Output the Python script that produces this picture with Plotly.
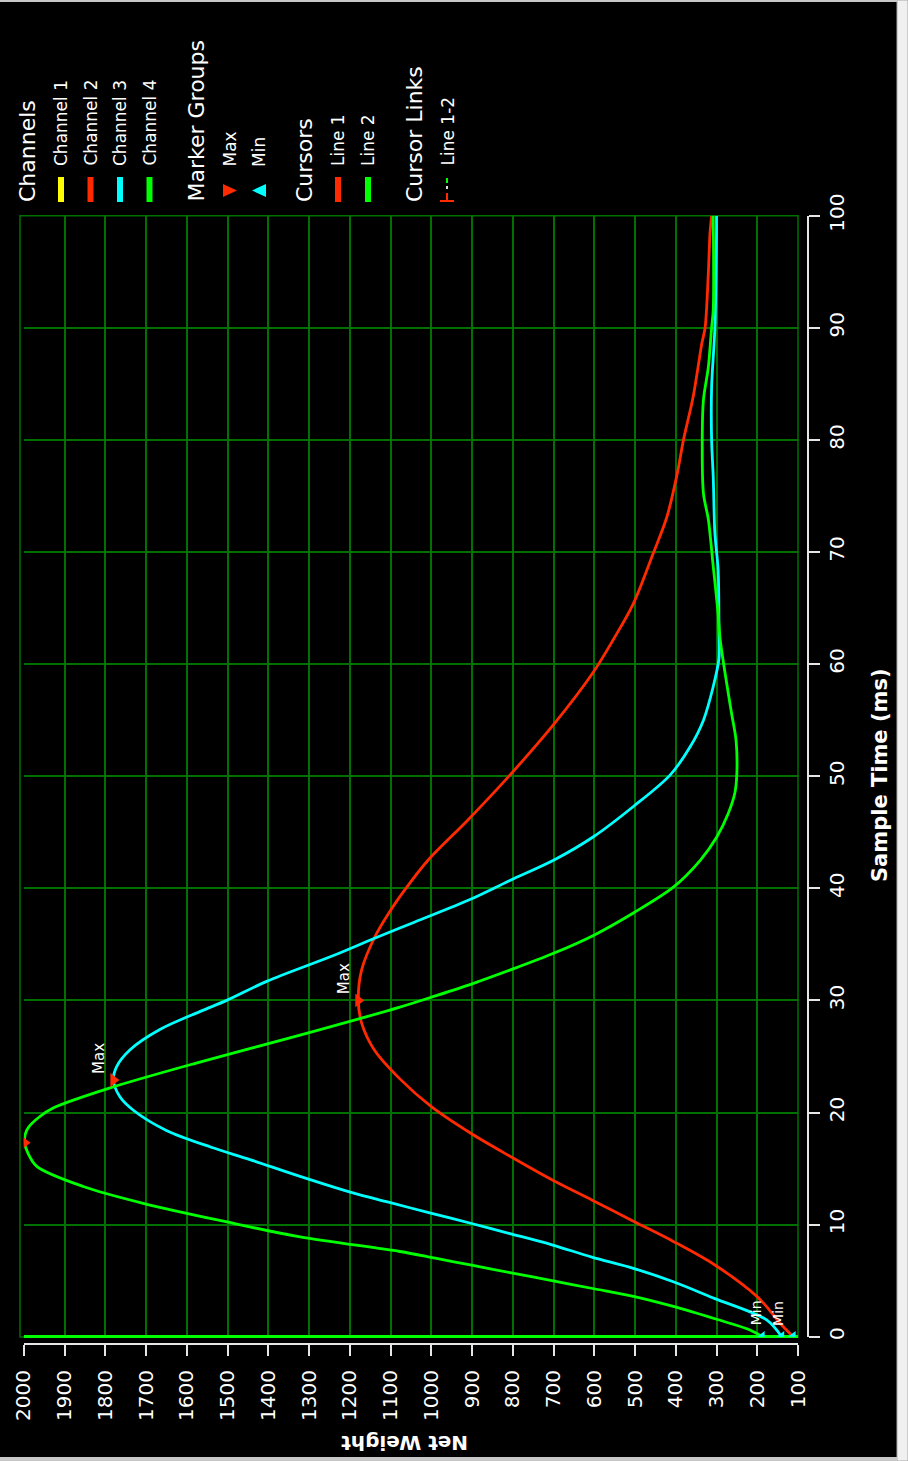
import plotly.graph_objects as go

# ---------------- data ----------------
ch2_time = [0.0, 1.2, 2.5, 3.6, 6.4, 8.5, 10.3, 12.2, 14.0, 16.1, 18.1, 20.5, 23.0, 25.6, 28.0, 30.0,
            32.7, 35.7, 37.8, 40.1, 42.5, 46.1, 50.1, 54.6, 59.3, 62.2, 65.4, 69.9, 73.1,
            76.7, 80.0, 83.9, 88.6, 90.0, 94.9, 98.4, 100.0]
ch2_weight = [112, 144, 173, 201, 304, 406, 504, 606, 704, 807, 901, 999, 1077, 1140, 1171, 1179,
              1171, 1138, 1104, 1060, 1008, 910, 807, 700, 602, 553, 504, 455, 422,
              398, 381, 357, 336, 328, 320, 316, 312]

ch3_time = [0.0, 1.5, 3.4, 4.9, 6.1, 7.1, 8.2, 9.2, 10.1, 11.0, 12.0, 12.8, 14.3, 15.8, 16.9, 18.4,
            20.2, 21.4, 22.9, 24.1, 25.6, 27.4, 29.0, 30.0, 31.7, 34.0, 35.5, 37.0, 39.0,
            40.7, 42.5, 44.6, 47.3, 50.1, 52.6, 55.0, 58.0, 60.5, 63.0, 68.4, 71.7, 76.7, 80.0,
            84.7, 90.0, 98.4, 100.0]
ch3_weight = [140, 177, 304, 406, 504, 606, 704, 807, 901, 999, 1105, 1190, 1322, 1445, 1540, 1650,
              1731, 1764, 1780, 1772, 1739, 1666, 1568, 1502, 1404, 1240, 1142, 1040, 905,
              807, 700, 602, 504, 414, 365, 332, 308, 294, 294, 296, 304, 308, 312,
              312, 304, 300, 300]

ch4_time = [0.0, 0.6, 1.6, 2.7, 3.6, 4.3, 5.0, 5.7, 6.4, 7.0, 7.6, 8.9, 10.3, 11.9, 13.4, 15.2,
            16.4, 17.3, 18.1, 18.7, 19.6, 20.4, 22.2, 24.5, 26.9, 29.4, 30.4, 31.5, 32.7, 34.2,
            35.8, 37.8, 40.1, 42.5, 44.6, 46.7, 48.5, 50.3, 53.2, 55.6, 59.2, 62.2, 64.5, 68.7,
            72.9, 75.2, 80.0, 83.6, 86.5, 90.0, 91.6, 100.0]
ch4_weight = [188, 218, 304, 406, 504, 604, 704, 804, 904, 990, 1077, 1322, 1510, 1707, 1854, 1968,
              1990, 1998, 1996, 1988, 1962, 1928, 1788, 1568, 1322, 1077, 990, 898, 807, 700,
              602, 504, 406, 340, 299, 271, 255, 250, 252, 263, 279, 291, 296, 308,
              320, 332, 335, 332, 320, 312, 308, 308]

channel_names = ["Channel 1", "Channel 2", "Channel 3", "Channel 4"]
channel_colors = ["#ffff00", "#ff2a00", "#00ffff", "#00ff00"]
cursor_names = ["Line 1", "Line 2"]
cursor_colors = ["#ff2a00", "#00ff00"]

weight_ticks = list(range(100, 2001, 100))
time_ticks = list(range(0, 101, 10))

# ---------------- layout helpers ----------------
W, H = 908, 1461
def fx(x):
    return x / W
def fy(y):
    return 1 - y / H

FONT = "DejaVu Sans"
GRID = "rgb(0,112,0)"
AXIS = "#e6e6e6"

fig = go.Figure()

series = [(ch2_time, ch2_weight, channel_colors[1], channel_names[1]),
          (ch3_time, ch3_weight, channel_colors[2], channel_names[2]),
          (ch4_time, ch4_weight, channel_colors[3], channel_names[3])]

for t, w, c, n in series:
    fig.add_trace(go.Scatter(x=w, y=t, mode="lines", name=n,
                             line=dict(color=c, width=2.8, shape="spline", smoothing=0.9),
                             showlegend=False, cliponaxis=True, hoverinfo="skip"))

max_x, max_y = [], []
min_x, min_y = [], []
for t, w, c, n in series:
    i = max(range(len(w)), key=lambda k: w[k])
    max_x.append(w[i]); max_y.append(t[i])
    j = min(range(len(w)), key=lambda k: w[k] if t[k] < 5 else 1e9)
    min_x.append(w[j]); min_y.append(t[j])

fig.add_trace(go.Scatter(x=max_x, y=max_y, mode="markers", cliponaxis=True, showlegend=False,
                         marker=dict(symbol="triangle-right", size=12, color="#ff2a00"),
                         hoverinfo="skip"))
fig.add_trace(go.Scatter(x=min_x, y=min_y, mode="markers", cliponaxis=True, showlegend=False,
                         marker=dict(symbol="triangle-left", size=10, color="#00ffff"),
                         hoverinfo="skip"))

annotations = []
for xv, yv in zip(max_x[:2], max_y[:2]):
    annotations.append(dict(x=xv, y=yv, xref="x", yref="y", text="Max", showarrow=False,
                            textangle=-90, xanchor="center", yanchor="bottom",
                            xshift=-14, yshift=4,
                            font=dict(family=FONT, size=15, color="white")))
for xv, yv, xs in zip(min_x[1:], min_y[1:], [-4, -6]):
    annotations.append(dict(x=xv, y=yv, xref="x", yref="y", text="Min", showarrow=False,
                            textangle=-90, xanchor="center", yanchor="bottom",
                            xshift=xs, yshift=9,
                            font=dict(family=FONT, size=14, color="white")))

annotations.append(dict(x=fx(880), y=fy(775), xref="paper", yref="paper", text="<b>Sample Time (ms)</b>",
                        showarrow=False, textangle=-90, xanchor="center", yanchor="middle",
                        font=dict(family=FONT, size=21, color="white")))
annotations.append(dict(x=fx(405), y=fy(1443), xref="paper", yref="paper", text="<b>Net Weight</b>",
                        showarrow=False, textangle=180, xanchor="center", yanchor="middle",
                        font=dict(family=FONT, size=20, color="white")))

def vtext(txt, x, ybottom, size):
    annotations.append(dict(x=fx(x), y=fy(ybottom), xref="paper", yref="paper", text=txt,
                            showarrow=False, textangle=-90, xanchor="center", yanchor="bottom",
                            font=dict(family=FONT, size=size, color="white")))

shapes = []
shapes.append(dict(type="rect", xref="paper", yref="paper", x0=fx(897), x1=1, y0=0, y1=1,
                   fillcolor="#f0f0f0", line=dict(color="#a8a8a8", width=1), layer="below"))
shapes.append(dict(type="rect", xref="paper", yref="paper", x0=0, x1=fx(897), y0=fy(2), y1=1,
                   fillcolor="#c8c8c8", line=dict(width=0), layer="below"))
shapes.append(dict(type="rect", xref="paper", yref="paper", x0=0, x1=fx(897), y0=0, y1=fy(1457),
                   fillcolor="#c8c8c8", line=dict(width=0), layer="below"))
shapes.append(dict(type="rect", xref="paper", yref="paper", x0=fx(20), x1=fx(798),
                   y0=fy(1337), y1=fy(215.7), line=dict(color=GRID, width=1.5), layer="below"))

def bar(x, color):
    shapes.append(dict(type="rect", xref="paper", yref="paper", x0=fx(x - 3), x1=fx(x + 3),
                       y0=fy(202), y1=fy(177), fillcolor=color, line=dict(width=0), layer="above"))

vtext("Channels", 28, 204, 22)
for i, (nm, col) in enumerate(zip(channel_names, channel_colors)):
    xc = 61 + i * 29.5
    bar(xc, col)
    vtext(nm, xc, 168, 17)

vtext("Marker Groups", 196, 204, 22)
shapes.append(dict(type="path", xref="paper", yref="paper",
                   path=f"M {fx(223)},{fy(184)} L {fx(223)},{fy(197)} L {fx(237)},{fy(190.5)} Z",
                   fillcolor="#ff2a00", line=dict(width=0), layer="above"))
vtext("Max", 229, 169, 17)
shapes.append(dict(type="path", xref="paper", yref="paper",
                   path=f"M {fx(266)},{fy(184)} L {fx(266)},{fy(197)} L {fx(252)},{fy(190.5)} Z",
                   fillcolor="#00ffff", line=dict(width=0), layer="above"))
vtext("Min", 259, 169, 17)

vtext("Cursors", 305, 204, 22)
for i, (nm, col) in enumerate(zip(cursor_names, cursor_colors)):
    xc = 338 + i * 30
    bar(xc, col)
    vtext(nm, xc, 168, 17)

vtext("Cursor Links", 415, 204, 22)
shapes += [
    dict(type="line", xref="paper", yref="paper", x0=fx(440), x1=fx(454), y0=fy(201), y1=fy(201),
         line=dict(color="#ff2a00", width=2), layer="above"),
    dict(type="line", xref="paper", yref="paper", x0=fx(447), x1=fx(447), y0=fy(201), y1=fy(193),
         line=dict(color="#ff2a00", width=2), layer="above"),
    dict(type="line", xref="paper", yref="paper", x0=fx(447), x1=fx(447), y0=fy(189), y1=fy(186),
         line=dict(color="#dddddd", width=2), layer="above"),
    dict(type="line", xref="paper", yref="paper", x0=fx(447), x1=fx(447), y0=fy(183), y1=fy(178),
         line=dict(color="#00ff00", width=2), layer="above"),
]
vtext("Line 1-2", 447, 168, 17)

x0p, x1p = 23.75, 798.0
ytop, ybot = 215.7, 1336.7

fig.update_layout(
    width=W, height=H,
    margin=dict(l=0, r=0, t=0, b=0, pad=0, autoexpand=False),
    paper_bgcolor="black", plot_bgcolor="black",
    showlegend=False,
    annotations=annotations,
    shapes=shapes,
    xaxis=dict(range=[weight_ticks[-1], weight_ticks[0]], domain=[fx(x0p), fx(x1p)],
               anchor="free", position=fy(1344), automargin=False,
               tickmode="array", tickvals=weight_ticks, ticktext=[str(v) for v in weight_ticks],
               tickangle=-90, ticks="outside", ticklen=11, tickwidth=2, tickcolor=AXIS,
               ticklabelstandoff=6,
               showline=True, linecolor=AXIS, linewidth=2,
               showgrid=True, gridcolor=GRID, gridwidth=1.5, zeroline=False,
               tickfont=dict(family=FONT, size=20, color="white")),
    yaxis=dict(range=[time_ticks[0], time_ticks[-1]], domain=[fy(ybot), fy(ytop)],
               anchor="free", position=fx(808), side="right", automargin=False,
               tickmode="array", tickvals=time_ticks, ticktext=[str(v) for v in time_ticks],
               tickangle=-90, ticks="outside", ticklen=11, tickwidth=2, tickcolor=AXIS,
               showline=True, linecolor=AXIS, linewidth=2,
               showgrid=True, gridcolor=GRID, gridwidth=1.5,
               zeroline=True, zerolinecolor=cursor_colors[1], zerolinewidth=2.5,
               tickfont=dict(family=FONT, size=20, color="white")),
)

fig.write_html("out.html", config={"displayModeBar": False},
               post_script="document.body.style.margin='0px';document.body.style.overflow='hidden';")
